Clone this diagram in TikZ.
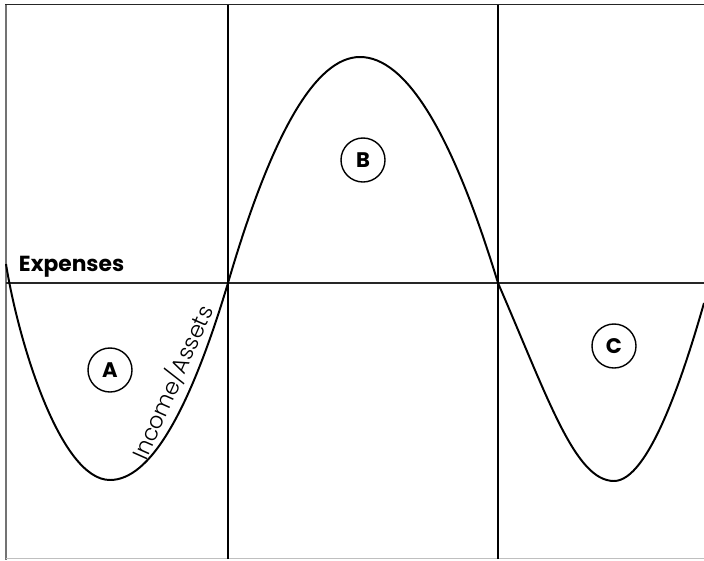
\documentclass[tikz,border=0pt]{standalone}
\usepackage{fontspec}
\setmainfont{Poppins}
\newfontfamily\lightfont{Poppins}[UprightFont={* Light}]
\usepackage{tikz}

\begin{document}
\begin{tikzpicture}[x=.025cm,y=-.025cm,
  lobe/.style={draw,circle,line width=1pt,minimum size=1.1cm,inner sep=0pt,
    font=\bfseries\fontsize{15}{15}\selectfont},
  wave/.style={line width=1.4pt,line join=round}]
  \useasboundingbox (0,0) rectangle (704,560);
  % frame and columns
  \draw[line width=1.4pt,black!55] (6,4) -- (6,560);
  \draw[line width=1.4pt,black!85] (5,4.5) -- (704,4.5);
  \draw[line width=1pt,black!25] (6,558.5) -- (704,558.5);
  \foreach \x in {228,498} {
    \draw[line width=.9pt] (\x,4.5) -- (\x,558.5);
  }
  \draw[line width=1.8pt,black!85] (6,283) -- (704,283);
  \node[anchor=base west,font=\bfseries\fontsize{15.5}{15.5}\selectfont] (exp) at (14,271) {Expenses};
  % turning points of the curve
  \coordinate (s) at (6,264);
  \coordinate (mA) at (110,480);
  \coordinate (z1) at (228,283);
  \coordinate (mB) at (360,57);
  \coordinate (z2) at (498,283);
  \coordinate (mC) at (614,481);
  \coordinate (e) at (704,303);
  \draw[wave] (s) .. controls (18,340) and (60,480) .. (mA)
    .. controls (149.3,480) and (188.7,414.3) .. (z1)
    .. controls (272,132.3) and (316,57) .. (mB)
    .. controls (406,57) and (452,132.3) .. (z2)
    .. controls (548,398) and (575,481) .. (mC)
    .. controls (649,481) and (684,373) .. (e);
  \node[lobe] (A) at (110,370) {A};
  \node[lobe] (B) at (363,160) {B};
  \node[lobe] (C) at (614,346) {C};
  \node[anchor=base,rotate=66,font=\lightfont\fontsize{16}{16}\selectfont] (inc) at (180,386) {Income/Assets};
\end{tikzpicture}
\end{document}
